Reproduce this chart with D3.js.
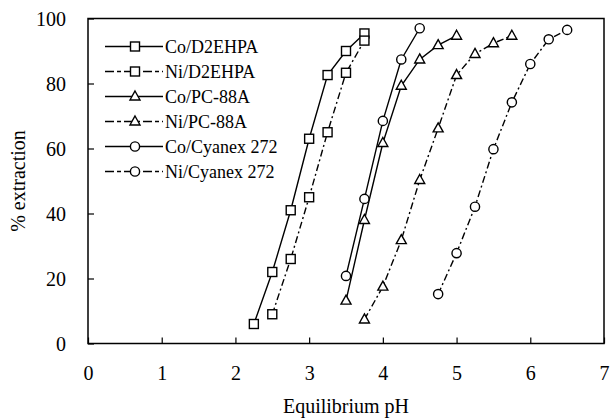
<!DOCTYPE html>
<html>
<head>
<meta charset="utf-8">
<script src="https://cdn.jsdelivr.net/npm/d3@7"></script>
<style>
  body { margin: 0; background: #fff; }
</style>
</head>
<body>
<div class="chart__container"></div>
<script>
// data
const seriesNames = ['Co/D2EHPA', 'Ni/D2EHPA', 'Co/PC-88A', 'Ni/PC-88A', 'Co/Cyanex 272', 'Ni/Cyanex 272'];
const seriesMarkers = ['square', 'square', 'triangle', 'triangle', 'circle', 'circle'];
const seriesDashed = [false, true, false, true, false, true];

const coD2ehpaPH = [2.25, 2.5, 2.75, 3.0, 3.25, 3.5, 3.75];
const coD2ehpaExt = [6, 22, 41, 63, 82.6, 90, 95.4];
const niD2ehpaPH = [2.5, 2.75, 3.0, 3.25, 3.5, 3.75];
const niD2ehpaExt = [9, 26, 45, 65, 83.3, 93.2];
const coPc88aPH = [3.5, 3.75, 4.0, 4.25, 4.5, 4.75, 5.0];
const coPc88aExt = [13.2, 38, 61.7, 79.3, 87.4, 91.8, 94.7];
const niPc88aPH = [3.75, 4.0, 4.25, 4.5, 4.75, 5.0, 5.25, 5.5, 5.75];
const niPc88aExt = [7.4, 17.5, 31.8, 50.3, 66.2, 82.6, 89.1, 92.4, 94.7];
const coCyanexPH = [3.5, 3.75, 4.0, 4.25, 4.5];
const coCyanexExt = [20.8, 44.5, 68.5, 87.4, 97];
const niCyanexPH = [4.75, 5.0, 5.25, 5.5, 5.75, 6.0, 6.25, 6.5];
const niCyanexExt = [15.2, 27.8, 42.1, 59.8, 74.2, 86, 93.6, 96.5];

const xTicks = [0, 1, 2, 3, 4, 5, 6, 7];
const yTicks = [0, 20, 40, 60, 80, 100];

const phLists = [coD2ehpaPH, niD2ehpaPH, coPc88aPH, niPc88aPH, coCyanexPH, niCyanexPH];
const extLists = [coD2ehpaExt, niD2ehpaExt, coPc88aExt, niPc88aExt, coCyanexExt, niCyanexExt];

const series = seriesNames.map((name, i) => ({
    name: name,
    marker: seriesMarkers[i],
    dashed: seriesDashed[i],
    values: phLists[i].map((ph, j) => ({ ph: ph, ext: extLists[i][j] }))
}));

// chart
const width = 610;
const height = 420;
const margin = { top: 18.5, right: 6, bottom: 76.5, left: 88 };
const widthChart = width - margin.left - margin.right;
const heightChart = height - margin.top - margin.bottom;
const dash = '7,3,2,3';
const serif = '"Liberation Serif", "Times New Roman", serif';

const xScale = d3.scaleLinear().domain([0, 7]).range([0, widthChart]);
const yScale = d3.scaleLinear().domain([0, 100]).range([heightChart, 0]);

const lineGenerator = d3.line()
    .x(d => xScale(d.ph))
    .y(d => yScale(d.ext));

const svg = d3.select('.chart__container')
    .append('svg')
    .attr('width', width)
    .attr('height', height)
    .attr('font-family', serif)
    .append('g')
    .attr('transform', `translate(${margin.left}, ${margin.top})`);

// frame
svg.append('rect')
    .attr('x', 0)
    .attr('y', 0)
    .attr('width', widthChart)
    .attr('height', heightChart)
    .style('fill', 'none')
    .style('stroke', '#000')
    .style('stroke-width', 1.5);

// axes, ticks pointing inward
const xAxis = d3.axisBottom(xScale)
    .tickValues(xTicks)
    .tickSizeInner(-6)
    .tickSizeOuter(0)
    .tickPadding(22)
    .tickFormat(d3.format('d'));

const yAxis = d3.axisLeft(yScale)
    .tickValues(yTicks)
    .tickSizeInner(-6)
    .tickSizeOuter(0)
    .tickPadding(22);

const xAxisDraw = svg.append('g')
    .attr('class', 'x-axis')
    .attr('transform', `translate(0,${heightChart})`)
    .call(xAxis);
const yAxisDraw = svg.append('g')
    .attr('class', 'y-axis')
    .call(yAxis);

[xAxisDraw, yAxisDraw].forEach(ax => {
    ax.attr('font-family', serif).attr('font-size', 20);
    ax.select('.domain').remove();
    ax.selectAll('line').style('stroke', '#000').style('stroke-width', 1.2);
    ax.selectAll('text').style('fill', '#000');
});
yAxisDraw.selectAll('text').attr('dy', '0.35em');

// axis titles
svg.append('text')
    .attr('x', widthChart / 2)
    .attr('y', heightChart + 69)
    .style('text-anchor', 'middle')
    .style('font-family', serif)
    .style('font-size', '20px')
    .text('Equilibrium pH');

svg.append('text')
    .attr('transform', `translate(${-63},${heightChart / 2}) rotate(-90)`)
    .style('text-anchor', 'middle')
    .style('font-family', serif)
    .style('font-size', '20px')
    .text('% extraction');

// markers
const drawMarker = (sel, type) => {
    if (type === 'square') {
        sel.append('rect')
            .attr('x', -4.5).attr('y', -4.5)
            .attr('width', 9).attr('height', 9);
    } else if (type === 'triangle') {
        sel.append('path')
            .attr('d', 'M0,-5.5L5,3.5L-5,3.5Z');
    } else {
        sel.append('circle').attr('r', 4.6);
    }
    sel.selectAll('*')
        .style('fill', '#fff')
        .style('stroke', '#000')
        .style('stroke-width', 1.4);
};

const chartGroup = svg.append('g').attr('class', 'line-chart');

chartGroup.selectAll('.line-series')
    .data(series)
    .enter()
    .append('path')
    .attr('class', 'line-series')
    .attr('d', d => lineGenerator(d.values))
    .style('fill', 'none')
    .style('stroke', '#000')
    .style('stroke-width', 1.4)
    .style('stroke-dasharray', d => d.dashed ? dash : null);

series.forEach(s => {
    chartGroup.append('g')
        .selectAll('g')
        .data(s.values)
        .enter()
        .append('g')
        .attr('transform', d => `translate(${xScale(d.ph)},${yScale(d.ext)})`)
        .each(function () { drawMarker(d3.select(this), s.marker); });
});

// legend
const legend = svg.append('g')
    .attr('class', 'legend')
    .attr('transform', 'translate(17, 28)');

const rows = legend.selectAll('g')
    .data(series)
    .enter()
    .append('g')
    .attr('transform', (d, i) => `translate(0,${i * 25})`);

rows.append('line')
    .attr('x1', 0).attr('x2', 58)
    .attr('y1', 0).attr('y2', 0)
    .style('stroke', '#000')
    .style('stroke-width', 1.4)
    .style('stroke-dasharray', d => d.dashed ? '9,3,4,3' : null);

rows.each(function (d) {
    const m = d3.select(this).append('g').attr('transform', 'translate(30,0)');
    drawMarker(m, d.marker);
});

rows.append('text')
    .attr('x', 60)
    .attr('y', 0)
    .attr('dy', '0.35em')
    .style('font-family', serif)
    .style('font-size', '18px')
    .text(d => d.name);
</script>
</body>
</html>
